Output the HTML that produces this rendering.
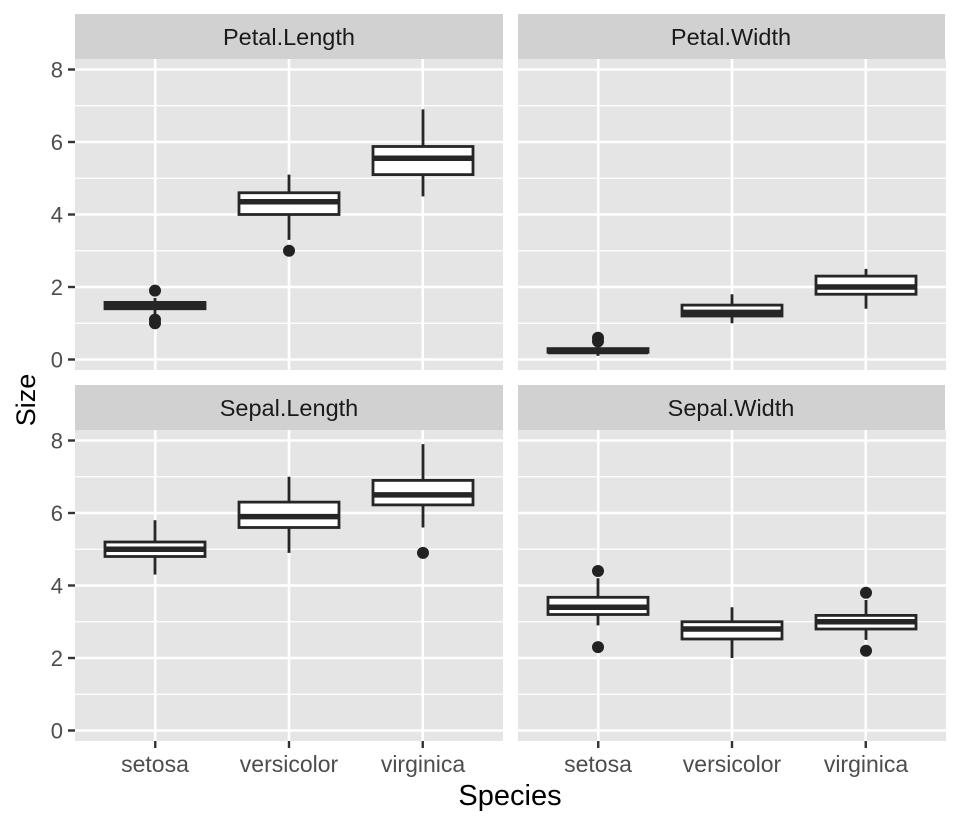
<!DOCTYPE html>
<html><head><style>body{margin:0;background:#fff}svg{display:block}text{font-family:"Liberation Sans",Arial,sans-serif}</style></head><body>
<svg width="960" height="825" viewBox="0 0 960 825" xmlns="http://www.w3.org/2000/svg">
<defs>
<g id="grid">
<rect x="0" y="0" width="428" height="311" fill="#e5e5e5"/>
<g stroke="#fff" stroke-width="1.3">
<line x1="0" x2="428" y1="264.25" y2="264.25"/><line x1="0" x2="428" y1="191.75" y2="191.75"/><line x1="0" x2="428" y1="119.25" y2="119.25"/><line x1="0" x2="428" y1="46.75" y2="46.75"/>
</g>
<g stroke="#fff" stroke-width="2.6">
<line x1="0" x2="428" y1="300.5" y2="300.5"/><line x1="0" x2="428" y1="228" y2="228"/><line x1="0" x2="428" y1="155.5" y2="155.5"/><line x1="0" x2="428" y1="83" y2="83"/><line x1="0" x2="428" y1="10.5" y2="10.5"/>
<line x1="80.25" x2="80.25" y1="0" y2="311"/><line x1="214" x2="214" y1="0" y2="311"/><line x1="347.75" x2="347.75" y1="0" y2="311"/>
</g>
</g>
</defs>
<rect x="75" y="14" width="428" height="45" fill="#d1d1d1"/>
<rect x="518" y="14" width="427" height="45" fill="#d1d1d1"/>
<rect x="75" y="385" width="428" height="45" fill="#d1d1d1"/>
<rect x="518" y="385" width="427" height="45" fill="#d1d1d1"/>
<g font-size="23.5" fill="#1a1a1a" text-anchor="middle">
<text x="289" y="45">Petal.Length</text><text x="731" y="45">Petal.Width</text>
<text x="289" y="416">Sepal.Length</text><text x="731" y="416">Sepal.Width</text>
</g>
<use href="#grid" x="75" y="59"/><use href="#grid" x="518" y="59"/>
<use href="#grid" x="75" y="430"/><use href="#grid" x="518" y="430"/>
<g stroke="#262626" stroke-width="2.8" fill="#fff">
<line x1="155" x2="155" y1="316" y2="297.9"/><rect x="105" y="302.4" width="100" height="6.35"/><line x1="105" x2="205" y1="305.1" y2="305.1" stroke-width="5.5"/>
<line x1="289" x2="289" y1="239.9" y2="174.6"/><rect x="239" y="192.75" width="100" height="21.75"/><line x1="239" x2="339" y1="201.8" y2="201.8" stroke-width="5.5"/>
<line x1="423" x2="423" y1="196.4" y2="109.4"/><rect x="373" y="146.5" width="100" height="28.1"/><line x1="373" x2="473" y1="158.3" y2="158.3" stroke-width="5.5"/>
<line x1="598" x2="598" y1="355.9" y2="345"/><rect x="548" y="348.6" width="100" height="3.65"/><line x1="548" x2="648" y1="351.5" y2="351.5" stroke-width="5.5"/>
<line x1="732" x2="732" y1="323.25" y2="294.25"/><rect x="682" y="305.1" width="100" height="10.9"/><line x1="682" x2="782" y1="312.4" y2="312.4" stroke-width="5.5"/>
<line x1="866" x2="866" y1="308.75" y2="268.9"/><rect x="816" y="276.1" width="100" height="18.15"/><line x1="816" x2="916" y1="287" y2="287" stroke-width="5.5"/>
<line x1="155" x2="155" y1="574.6" y2="520.25"/><rect x="105" y="542" width="100" height="14.5"/><line x1="105" x2="205" y1="549.25" y2="549.25" stroke-width="5.5"/>
<line x1="289" x2="289" y1="552.9" y2="476.75"/><rect x="239" y="502.1" width="100" height="25.4"/><line x1="239" x2="339" y1="516.6" y2="516.6" stroke-width="5.5"/>
<line x1="423" x2="423" y1="527.5" y2="444.1"/><rect x="373" y="480.4" width="100" height="24.5"/><line x1="373" x2="473" y1="494.9" y2="494.9" stroke-width="5.5"/>
<line x1="598" x2="598" y1="625.4" y2="578.25"/><rect x="548" y="597.3" width="100" height="17.2"/><line x1="548" x2="648" y1="607.25" y2="607.25" stroke-width="5.5"/>
<line x1="732" x2="732" y1="658" y2="607.25"/><rect x="682" y="621.75" width="100" height="17.25"/><line x1="682" x2="782" y1="629" y2="629" stroke-width="5.5"/>
<line x1="866" x2="866" y1="639.9" y2="600"/><rect x="816" y="615.4" width="100" height="13.6"/><line x1="816" x2="916" y1="621.75" y2="621.75" stroke-width="5.5"/>
</g>
<g fill="#222">
<circle cx="155" cy="290.6" r="6"/><circle cx="155" cy="323.25" r="6"/><circle cx="155" cy="319.6" r="6"/>
<circle cx="289" cy="250.75" r="6"/>
<circle cx="598" cy="341.4" r="6"/><circle cx="598" cy="337.75" r="6"/>
<circle cx="423" cy="552.9" r="6"/>
<circle cx="598" cy="647.1" r="6"/><circle cx="598" cy="571" r="6"/>
<circle cx="866" cy="650.75" r="6"/><circle cx="866" cy="592.75" r="6"/>
</g>
<g stroke="#333" stroke-width="2.4">
<line x1="68" x2="75" y1="69.5" y2="69.5"/><line x1="68" x2="75" y1="142" y2="142"/><line x1="68" x2="75" y1="214.5" y2="214.5"/><line x1="68" x2="75" y1="287" y2="287"/><line x1="68" x2="75" y1="359.5" y2="359.5"/>
<line x1="68" x2="75" y1="440.5" y2="440.5"/><line x1="68" x2="75" y1="513" y2="513"/><line x1="68" x2="75" y1="585.5" y2="585.5"/><line x1="68" x2="75" y1="658" y2="658"/><line x1="68" x2="75" y1="730.5" y2="730.5"/>
<line x1="155.25" x2="155.25" y1="741" y2="748"/><line x1="289" x2="289" y1="741" y2="748"/><line x1="422.75" x2="422.75" y1="741" y2="748"/>
<line x1="598.25" x2="598.25" y1="741" y2="748"/><line x1="732" x2="732" y1="741" y2="748"/><line x1="865.75" x2="865.75" y1="741" y2="748"/>
</g>
<g font-size="22" fill="#4d4d4d" text-anchor="end">
<text x="63" y="77.5">8</text><text x="63" y="150">6</text><text x="63" y="222.5">4</text><text x="63" y="295">2</text><text x="63" y="367.5">0</text>
<text x="63" y="448.5">8</text><text x="63" y="521">6</text><text x="63" y="593.5">4</text><text x="63" y="666">2</text><text x="63" y="738.5">0</text>
</g>
<g font-size="23" fill="#4d4d4d" text-anchor="middle">
<text x="155" y="772">setosa</text><text x="289" y="772">versicolor</text><text x="423" y="772">virginica</text>
<text x="598" y="772">setosa</text><text x="732" y="772">versicolor</text><text x="866" y="772">virginica</text>
</g>
<text x="510" y="805" font-size="29" text-anchor="middle" fill="#000">Species</text>
<text transform="translate(35,400) rotate(-90)" font-size="27" text-anchor="middle" fill="#000">Size</text>
</svg>
</body></html>
